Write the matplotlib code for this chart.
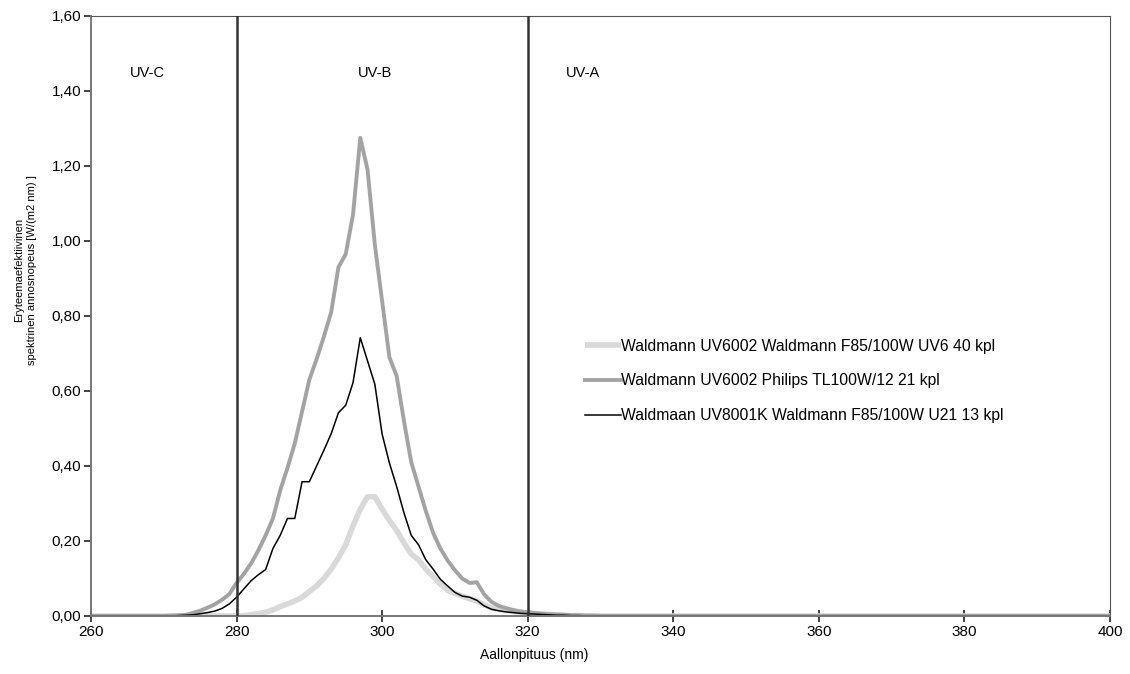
import matplotlib
matplotlib.use("Agg")
import matplotlib.pyplot as plt
from matplotlib.ticker import FuncFormatter

plt.rcParams['font.family'] = ['Liberation Sans', 'DejaVu Sans']

# Aallonpituudet (nm): 1 nm välein 270-330, lisäksi alku- ja loppupiste
wavelengths = [260] + list(range(270, 331)) + [400]

# Waldmann UV6002, Waldmann F85/100W UV6, 40 kpl
uv6 = [0.0,
       0.0, 0.0, 0.0, 0.0, 0.0, 0.0, 0.0, 0.0, 0.0, 0.0,
       0.0, 0.001, 0.003, 0.006, 0.010, 0.016, 0.025, 0.032, 0.040, 0.050,
       0.065, 0.080, 0.100, 0.125, 0.155, 0.190, 0.240, 0.285, 0.318, 0.318,
       0.285, 0.255, 0.228, 0.195, 0.165, 0.150, 0.125, 0.105, 0.085, 0.068,
       0.060, 0.053, 0.046, 0.040, 0.030, 0.022, 0.018, 0.015, 0.012, 0.010,
       0.008, 0.006, 0.005, 0.004, 0.003, 0.002, 0.001, 0.001, 0.0, 0.0,
       0.0,
       0.0]

# Waldmann UV6002, Philips TL100W/12, 21 kpl
tl12 = [0.0,
        0.0, 0.001, 0.002, 0.003, 0.008, 0.014, 0.022, 0.031, 0.043, 0.058,
        0.088, 0.112, 0.140, 0.175, 0.215, 0.260, 0.335, 0.395, 0.460, 0.545,
        0.630, 0.685, 0.745, 0.810, 0.930, 0.965, 1.070, 1.275, 1.190, 0.990,
        0.840, 0.690, 0.640, 0.520, 0.410, 0.345, 0.280, 0.222, 0.180, 0.148,
        0.122, 0.100, 0.088, 0.090, 0.058, 0.038, 0.027, 0.021, 0.016, 0.012,
        0.010, 0.008, 0.006, 0.005, 0.004, 0.003, 0.002, 0.002, 0.001, 0.001,
        0.0,
        0.0]

# Waldmaan UV8001K, Waldmann F85/100W U21, 13 kpl
u21 = [0.0,
       0.0, 0.0, 0.001, 0.002, 0.003, 0.006, 0.009, 0.013, 0.020, 0.032,
       0.050, 0.072, 0.094, 0.110, 0.124, 0.180, 0.215, 0.260, 0.260, 0.358,
       0.358, 0.400, 0.442, 0.486, 0.542, 0.562, 0.622, 0.742, 0.680, 0.618,
       0.485, 0.408, 0.345, 0.275, 0.215, 0.190, 0.150, 0.125, 0.098, 0.080,
       0.063, 0.053, 0.050, 0.042, 0.027, 0.018, 0.014, 0.011, 0.009, 0.007,
       0.006, 0.005, 0.004, 0.003, 0.002, 0.002, 0.001, 0.001, 0.0, 0.0,
       0.0,
       0.0]

labels = ["Waldmann UV6002 Waldmann F85/100W UV6 40 kpl",
          "Waldmann UV6002 Philips TL100W/12 21 kpl",
          "Waldmaan UV8001K Waldmann F85/100W U21 13 kpl"]

band_edges = [280, 320]
band_names = ["UV-C", "UV-B", "UV-A"]
band_label_x = [267.7, 299.0, 327.6]

fig = plt.figure(figsize=(11.3, 6.74), dpi=100)
ax = fig.add_axes([0.0805, 0.0861, 0.9018, 0.8902])

ax.plot(wavelengths, uv6, color='#d9d9d9', lw=4.0, solid_capstyle='butt', label=labels[0])
ax.plot(wavelengths, tl12, color='#a3a3a3', lw=2.8, label=labels[1])
ax.plot(wavelengths, u21, color='black', lw=1.1, label=labels[2])

for edge in band_edges:
    ax.axvline(edge, color='#333333', lw=1.8, zorder=5)

for name, xpos in zip(band_names, band_label_x):
    ax.text(xpos, 1.448, name, ha='center', va='center', fontsize=10.5)

ax.set_xlim(260, 400)
ax.set_ylim(0, 1.6)
ax.set_xticks(range(260, 401, 20))
ax.set_yticks([i * 0.2 for i in range(9)])
ax.yaxis.set_major_formatter(FuncFormatter(lambda v, p: f"{v:.2f}".replace('.', ',')))
ax.tick_params(axis='x', direction='inout', length=9, width=1.2, color='#222222',
               labelsize=11, pad=2)
ax.tick_params(axis='y', direction='out', length=5, width=1.2, color='#222222',
               labelsize=11, pad=2)

for side in ['left', 'bottom']:
    ax.spines[side].set_color('#777777')
    ax.spines[side].set_linewidth(1.4)
for side in ['top', 'right']:
    ax.spines[side].set_color('#555555')
    ax.spines[side].set_linewidth(0.8)

# akselien otsikot
fig.text(0.4726, 0.018, "Aallonpituus (nm)", ha='center', va='bottom', fontsize=10)
fig.text(0.0226, 0.5994, "Eryteemaefektiivinen\nspektrinen annosnopeus [W/(m2 nm) ]",
         rotation=90, ha='center', va='center', fontsize=8, linespacing=1.35)

ax.legend(loc='upper left', bbox_to_anchor=(0.485, 0.462), frameon=False,
          fontsize=11.3, handlelength=2.25, handletextpad=0.05, labelspacing=1.25,
          borderaxespad=0, borderpad=0)

fig.savefig("out.png", dpi=100)
